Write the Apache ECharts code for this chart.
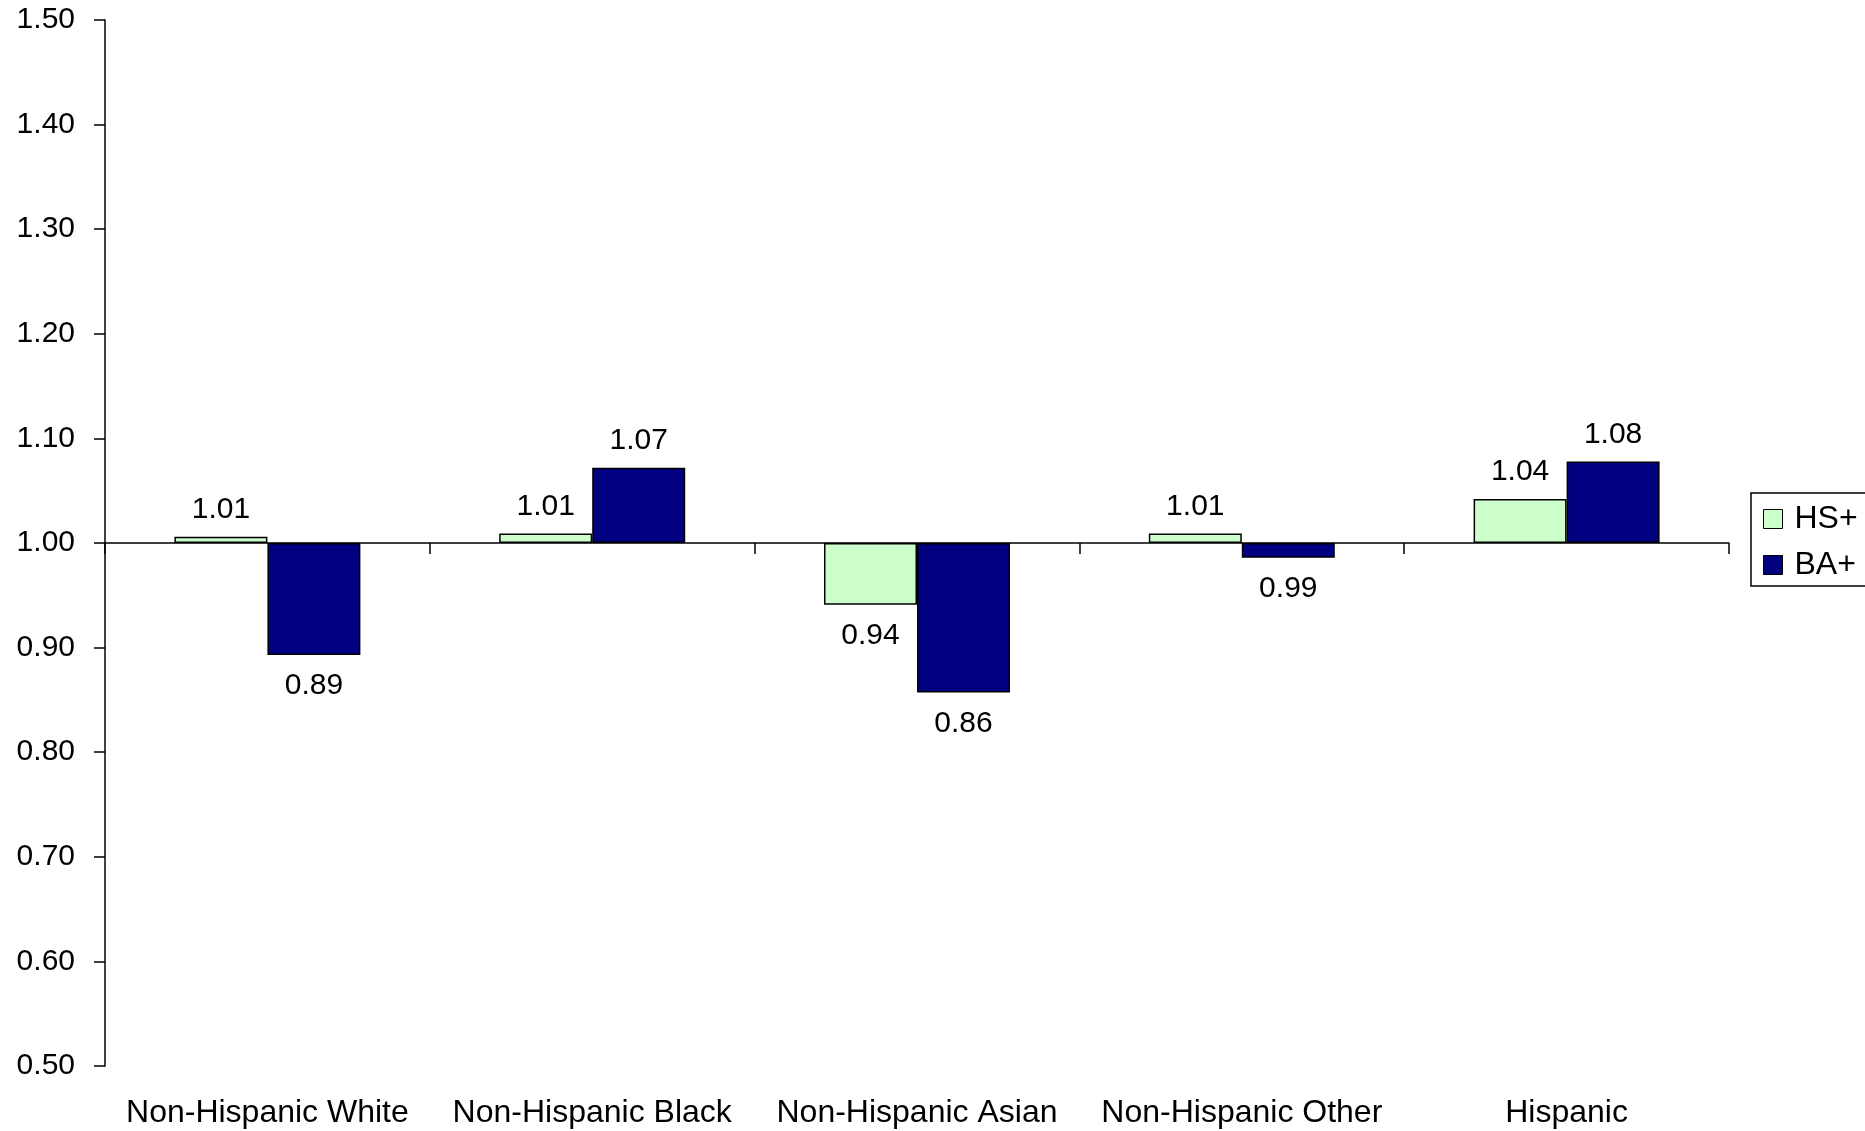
<!DOCTYPE html>
<html>
<head>
<meta charset="utf-8">
<script src="https://cdn.jsdelivr.net/npm/echarts@6/dist/echarts.min.js"></script>
<style>
  html, body { margin: 0; padding: 0; background: #fff; }
  #chart { width: 1865px; height: 1131px; }
</style>
</head>
<body>
<div id="chart"></div>
<script>
// Ratios by group, bars drawn relative to a baseline of 1.00
const categories = ['Non-Hispanic White', 'Non-Hispanic Black', 'Non-Hispanic Asian', 'Non-Hispanic Other', 'Hispanic'];
const hsPlus = [1.006, 1.009, 0.941, 1.009, 1.042];
const baPlus = [0.893, 1.072, 0.857, 0.986, 1.078];
const baseline = 1.0;
const yTickLabels = ['0.50', '0.60', '0.70', '0.80', '0.90', '1.00', '1.10', '1.20', '1.30', '1.40', '1.50'];

const FONT = 'Liberation Sans, Arial, sans-serif';
const FS_NUM = 30;
const FS_TEXT = 32;

const chart = echarts.init(document.getElementById('chart'), null, { renderer: 'canvas' });

// Bars grow up or down from the baseline; labels sit a bit further out below it
function offsetSeries(values) {
  return values.map(v => ({
    value: v - baseline,
    label: { distance: v < baseline ? 16 : 12 }
  }));
}

function labelFor(values) {
  return {
    show: true,
    position: 'outside',
    distance: 12,
    color: '#000',
    fontFamily: FONT,
    fontSize: FS_NUM,
    formatter: p => values[p.dataIndex].toFixed(2)
  };
}

chart.setOption({
  animation: false,
  backgroundColor: '#fff',
  textStyle: { fontFamily: FONT },
  grid: { left: 105, top: 20, right: 136, bottom: 65 },
  legend: {
    orient: 'vertical',
    left: 1751,
    top: 493,
    padding: [10, 60, 5, 12],
    itemGap: 14,
    itemWidth: 19,
    itemHeight: 19,
    borderColor: '#000',
    borderWidth: 1.5,
    textStyle: { fontFamily: FONT, fontSize: FS_TEXT, color: '#000', padding: [0, 0, 0, 7] },
    data: [
      { name: 'HS+', icon: 'rect', itemStyle: { borderColor: '#000', borderWidth: 1 } },
      { name: 'BA+', icon: 'rect', itemStyle: { borderColor: '#000', borderWidth: 1 } }
    ]
  },
  xAxis: [
    {
      type: 'category',
      data: categories,
      position: 'bottom',
      axisLine: { onZero: true, lineStyle: { color: '#000', width: 1.5 } },
      axisTick: { show: true, length: 11, lineStyle: { color: '#000', width: 1.5 } },
      axisLabel: { show: false },
      splitLine: { show: false }
    },
    {
      type: 'category',
      data: categories,
      position: 'bottom',
      axisLine: { show: false, onZero: false },
      axisTick: { show: false },
      axisLabel: {
        show: true,
        interval: 0,
        hideOverlap: false,
        margin: 31,
        color: '#000',
        fontFamily: FONT,
        fontSize: FS_TEXT
      },
      splitLine: { show: false }
    }
  ],
  yAxis: {
    type: 'value',
    min: -0.5,
    max: 0.5,
    interval: 0.1,
    axisLine: { show: true, lineStyle: { color: '#000', width: 1.5 } },
    axisTick: { show: true, length: 11, lineStyle: { color: '#000', width: 1.5 } },
    splitLine: { show: false },
    axisLabel: {
      margin: 30,
      color: '#000',
      fontFamily: FONT,
      fontSize: FS_NUM,
      formatter: v => yTickLabels[Math.round((v + 0.5) * 10)]
    }
  },
  series: [
    {
      name: 'HS+',
      type: 'bar',
      xAxisIndex: 0,
      barWidth: 93,
      barGap: '0%',
      data: offsetSeries(hsPlus),
      itemStyle: { color: '#CCFFCC', borderColor: '#000', borderWidth: 1.5 },
      label: labelFor(hsPlus)
    },
    {
      name: 'BA+',
      type: 'bar',
      xAxisIndex: 0,
      barWidth: 93,
      barGap: '0%',
      data: offsetSeries(baPlus),
      itemStyle: { color: '#000080', borderColor: '#000', borderWidth: 1.5 },
      label: labelFor(baPlus)
    }
  ]
});
</script>
</body>
</html>
